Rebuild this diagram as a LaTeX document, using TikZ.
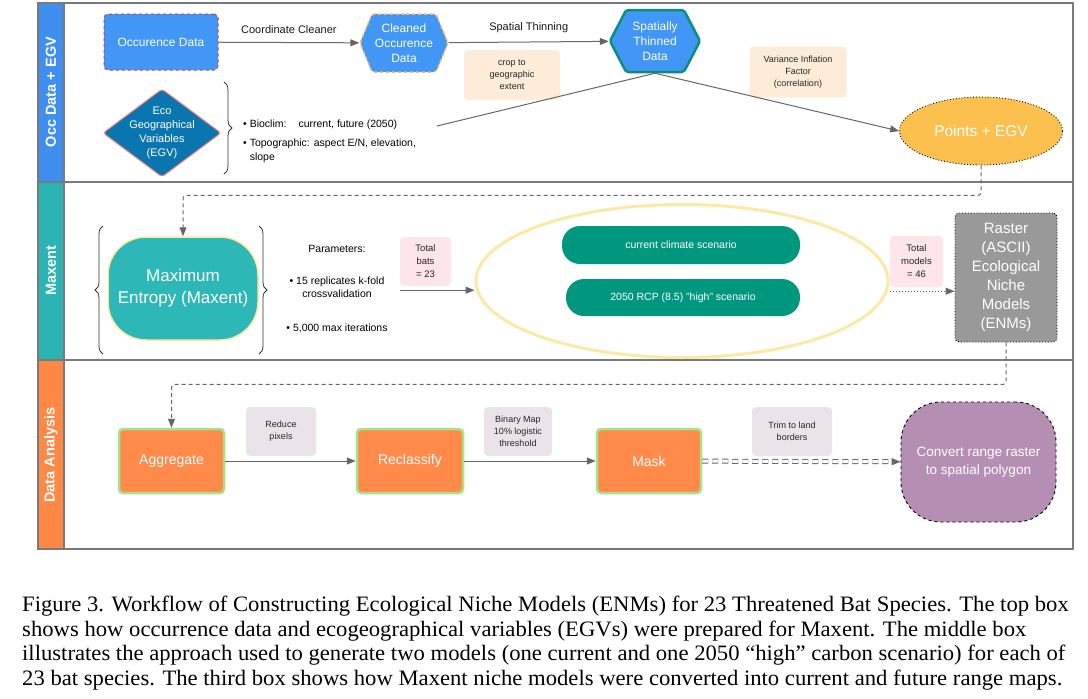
\documentclass[tikz,border=0pt]{standalone}
\usepackage{fontspec}
\setmainfont{Liberation Sans}
\newfontfamily\capfont{Liberation Serif}
\usetikzlibrary{arrows.meta,shapes.geometric,shapes.symbols,decorations.pathreplacing}

\definecolor{laneblue}{HTML}{3F8FF0}
\definecolor{laneteal}{HTML}{2AB5B4}
\definecolor{laneorange}{HTML}{FF8944}
\definecolor{occblue}{HTML}{4296F5}
\definecolor{occred}{HTML}{C8385A}
\definecolor{hexorange}{HTML}{FDB863}
\definecolor{thinteal}{HTML}{0B8F7A}
\definecolor{egvblue}{HTML}{0A76B0}
\definecolor{egvred}{HTML}{F47C7C}
\definecolor{pointsgold}{HTML}{FCC04F}
\definecolor{maxfill}{HTML}{2DB7B6}
\definecolor{maxyellow}{HTML}{FDE9A6}
\definecolor{pillgreen}{HTML}{00977F}
\definecolor{notepeach}{HTML}{FDECD8}
\definecolor{notepink}{HTML}{FDE5EA}
\definecolor{notegray}{HTML}{EBE3EA}
\definecolor{rastergray}{HTML}{999999}
\definecolor{boxorange}{HTML}{FF8A4A}
\definecolor{boxgreen}{HTML}{A8E08C}
\definecolor{convpurple}{HTML}{B48FB3}
\definecolor{arrowgray}{HTML}{666666}
\definecolor{framegray}{HTML}{7A7A7A}

\newcommand\fsz[2]{\fontsize{#1}{#2}\selectfont}

\tikzset{
  frame/.style={draw=framegray, line width=1.2pt},
  lanelabel/.style={rotate=90, text=white, font=\fsz{14.5}{16}\bfseries},
  flow/.style={draw=arrowgray, line width=1pt, -{Triangle[length=9pt,width=7pt]}},
  dflow/.style={flow, dash pattern=on 4pt off 3pt, rounded corners=3pt},
  conn/.style={draw=arrowgray, line width=1pt},
  lbl/.style={text=black!90, font=\fsz{11}{13}},
  note/.style={rounded corners=4pt, align=center, text=black!85, font=\fsz{9}{12}, inner sep=2pt},
  hexnode/.style={signal, signal to=east and west, signal pointer angle=135, fill=occblue,
    text=white, align=center, font=\fsz{12}{15}, inner sep=0pt, rounded corners=2pt},
  pill/.style={rounded corners=18pt, fill=pillgreen, text=white, font=\fsz{10.5}{13}},
  orangebox/.style={fill=boxorange, draw=boxgreen, line width=2.5pt, rounded corners=4pt,
    minimum height=64pt, text=white, font=\fsz{14}{17}},
  brc/.style={draw=black!80, line width=0.8pt, decorate, decoration={brace, amplitude=8pt}}
}

\begin{document}
\begin{tikzpicture}[x=1pt, y=-1pt]
\useasboundingbox (0,0) rectangle (1088,699);

% lanes
\fill[laneblue] (38,3) rectangle (64,182);
\fill[laneteal] (38,182) rectangle (64,360);
\fill[laneorange] (38,360) rectangle (64,549);
\draw[frame] (38,3) rectangle (1073,549);
\draw[frame] (38,182) -- (1073,182);
\draw[frame] (38,360) -- (1073,360);
\draw[frame] (64,3) -- (64,549);
\node[lanelabel] (lane1) at (51,92) {Occ Data + EGV};
\node[lanelabel] (lane2) at (51,271) {Maxent};
\node[lanelabel] (lane3) at (51,455) {Data Analysis};

% occurrence data + EGV
\node[fill=occblue, draw=occred, dashed, line width=1pt, rounded corners=4pt,
  minimum width=114pt, minimum height=56pt, text=white, font=\fsz{12}{15}] (occ) at (161,42) {Occurence Data};
\node[hexnode, draw=hexorange, dashed, line width=1.5pt, minimum width=88pt, minimum height=58pt] (cleaned) at (404,43) {Cleaned\\Occurence\\Data};
\node[hexnode, draw=thinteal, line width=2.5pt, signal pointer angle=125, minimum width=90pt, minimum height=62pt] (thinned) at (655,41) {Spatially\\Thinned\\Data};
\node[diamond, fill=egvblue, draw=egvred, line width=1pt, rounded corners=3pt, minimum width=118pt, minimum height=88pt,
  label={[text=white, align=center, font=\fsz{11}{14}]center:Eco\\Geographical\\Variables\\(EGV)}] (egv) at (162,133) {};
\node[ellipse, fill=pointsgold, draw=black, dotted, line width=0.9pt, minimum width=163pt, minimum height=68pt,
  text=white, font=\fsz{15.5}{18}] (points) at (981,131) {Points + EGV};

\node[note, fill=notepeach, minimum width=96pt, minimum height=50pt] (crop) at (512,75) {crop to\\geographic\\extent};
\node[note, fill=notepeach, minimum width=97pt, minimum height=51pt] (vif) at (798,72) {Variance Inflation\\Factor\\(correlation)};

\draw[brc] (224,82) -- (224,174);
\node[anchor=north west, align=left, font=\fsz{10.5}{14}, inner sep=0pt] (egvlist) at (243,120)
  {• Bioclim:\hspace{12pt}current, future (2050)\\[5pt]• Topographic: aspect E/N, elevation,\\\phantom{• }slope};
\coordinate (egvend) at (437,126);

\draw[flow] (occ) -- node[lbl, above=5pt] {Coordinate Cleaner} (cleaned);
\draw[flow] (cleaned) -- node[lbl, above=5pt] {Spatial Thinning} (thinned);
\draw[conn] (egvend) -- (thinned.south);
\draw[flow] (thinned.south) -- (points.west);

% maxent
\node[fill=maxfill, draw=maxyellow, line width=1.5pt, rounded corners=38pt, minimum width=150pt, minimum height=103pt,
  align=center, text=white, font=\fsz{17}{22}] (maxent) at (183,288.5) {Maximum\\Entropy (Maxent)};
\draw[brc] (103,354) -- (103,226);
\draw[brc] (259,226) -- (259,354);
\node[align=center, font=\fsz{10.5}{13}] (params) at (337,289) {Parameters:\\[19pt]• 15 replicates k-fold\\crossvalidation\\[21pt]• 5,000 max iterations};
\node[note, fill=notepink, font=\fsz{9.5}{13}, minimum width=51pt, minimum height=49pt] (bats) at (425.5,261.5) {Total\\bats\\= 23};
\node[ellipse, draw=maxyellow, line width=3pt, minimum width=412pt, minimum height=153pt] (scen) at (682,281) {};
\node[pill, minimum width=238pt, minimum height=38pt] (cur) at (681,245) {current climate scenario};
\node[pill, minimum width=234pt, minimum height=37pt] (high) at (683,297.5) {2050 RCP (8.5) "high" scenario};
\node[note, fill=notepink, font=\fsz{9.5}{13}, minimum width=53pt, minimum height=51pt] (models) at (916.5,261.5) {Total\\models\\= 46};
\node[fill=rastergray, draw=black, dotted, line width=0.9pt, rounded corners=4pt, minimum width=102pt, minimum height=129pt,
  align=center, text=white, font=\fsz{15}{19}] (raster) at (1006,277.5) {Raster\\(ASCII)\\Ecological\\Niche\\Models\\(ENMs)};

\draw[dflow] (points.south) -- ++(0,30) -| (maxent.north);
\coordinate (batsout) at ([yshift=-4pt]bats.south west);
\draw[flow] (batsout) -- (batsout -| scen.west);
\coordinate (modout) at ([yshift=-4pt]models.south west);
\draw[flow, dotted] (modout) -- (modout -| raster.west);

% data analysis
\node[orangebox, minimum width=105pt] (agg) at (171.5,461) {Aggregate};
\node[orangebox, minimum width=106pt] (recl) at (410,461) {Reclassify};
\node[orangebox, minimum width=104pt] (mask) at (649,461) {Mask};
\node[fill=convpurple, draw=black, dashed, line width=0.9pt, rounded corners=40pt, minimum width=155pt, minimum height=120pt,
  align=center, text=white, font=\fsz{13.5}{18}] (conv) at (978.5,462) {Convert range raster\\to spatial polygon};
\node[note, fill=notegray, minimum width=70pt, minimum height=49pt] (reduce) at (281,431.5) {Reduce\\pixels};
\node[note, fill=notegray, minimum width=68pt, minimum height=49pt] (binmap) at (518,431.5) {Binary Map\\10\% logistic\\threshold};
\node[note, fill=notegray, minimum width=80pt, minimum height=49pt] (trim) at (792,431.5) {Trim to land\\borders};

\draw[dflow] (raster.south) -- ++(0,42) -| (agg.north);
\draw[flow] (agg) -- (recl);
\draw[flow] (recl) -- (mask);
\draw[flow, double=white, double distance=3pt, dash pattern=on 6pt off 4pt] (mask) -- (conv);

% caption
\node[anchor=north west, inner sep=0pt, font=\capfont\fsz{22}{24.5}] (caption) at (22,594.5)
  {\scalebox{1.03}[1]{\begin{tabular}{@{}l@{}}
   Figure 3. Workflow of Constructing Ecological Niche Models (ENMs) for 23 Threatened Bat Species. The top box\\
   shows how occurrence data and ecogeographical variables (EGVs) were prepared for Maxent. The middle box\\
   illustrates the approach used to generate two models (one current and one 2050 “high” carbon scenario) for each of\\
   23 bat species. The third box shows how Maxent niche models were converted into current and future range maps.
  \end{tabular}}};
\end{tikzpicture}
\end{document}
